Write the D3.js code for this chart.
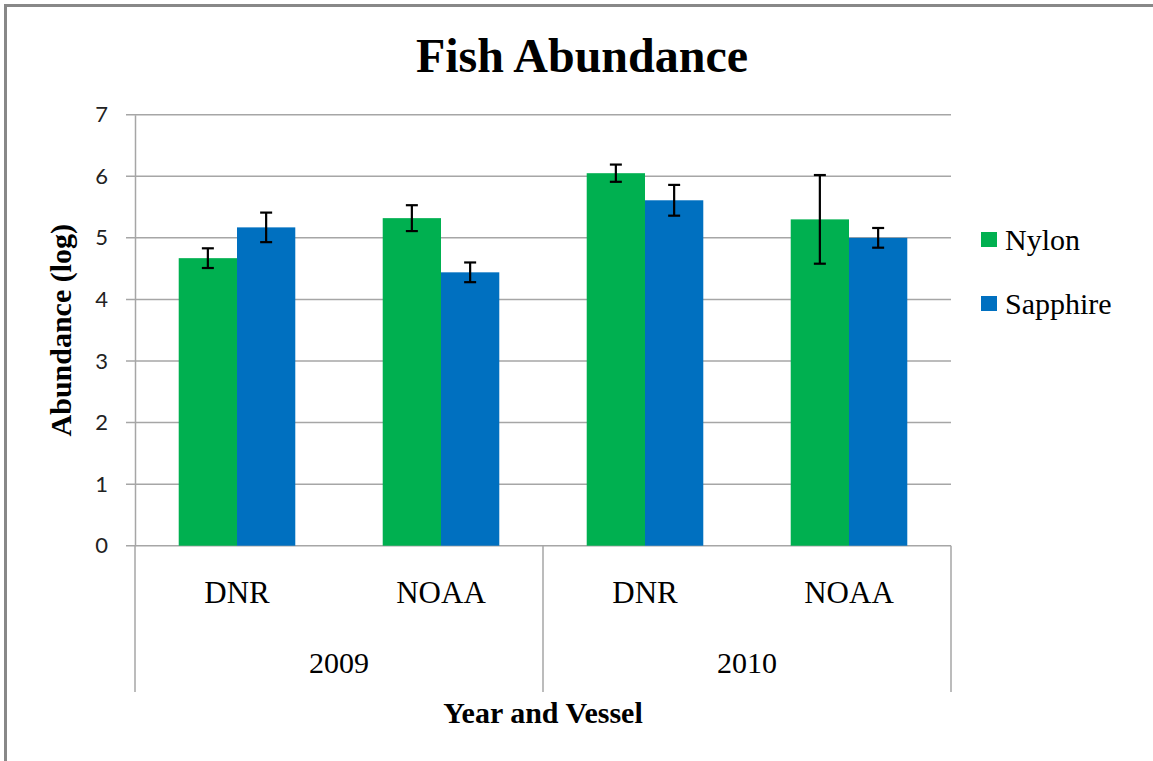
<!DOCTYPE html>
<html>
<head>
<meta charset="utf-8">
<script src="https://cdn.jsdelivr.net/npm/d3@7"></script>
<style>
  html, body { margin: 0; padding: 0; background: #fff; }
  svg { display: block; }
</style>
</head>
<body>
<div id="main"></div>
<script>
"use strict";

// data
var years = ["2009", "2010"];
var vessels = ["DNR", "NOAA", "DNR", "NOAA"];
var categories = ["2009-DNR", "2009-NOAA", "2010-DNR", "2010-NOAA"];
var series = ["Nylon", "Sapphire"];
var nylon = [4.67, 5.32, 6.05, 5.30];
var sapphire = [5.17, 4.44, 5.61, 5.00];
var nylonErr = [0.16, 0.21, 0.14, 0.72];
var sapphireErr = [0.24, 0.16, 0.25, 0.16];
var yTicks = [0, 1, 2, 3, 4, 5, 6, 7];
var colors = ["#00b050", "#0070c0"];

var W = 1153, H = 761;
var plotLeft = 135, plotRight = 951, plotTop = 114.7, plotBottom = 545.7;
var serif = "'Liberation Serif', 'Times New Roman', serif";
var sans = "Lato, 'Open Sans', sans-serif";
var grey = "#a6a6a6";

var svg = d3.select("#main").append("svg")
    .attr("width", W).attr("height", H);

svg.append("rect").attr("width", W).attr("height", H).attr("fill", "white");

// outer chart frame (only left/top visible)
svg.append("rect")
    .attr("x", 5.5).attr("y", 5.5)
    .attr("width", 1300).attr("height", 900)
    .attr("fill", "none").attr("stroke", "#888").attr("stroke-width", 3);

var y = d3.scaleLinear().domain([0, 7]).range([plotBottom, plotTop]);
var x0 = d3.scaleBand().domain(categories).range([plotLeft, plotRight]);
var gap = x0.bandwidth() * 0.75 / 1.75 / 2;
var x1 = d3.scaleBand().domain(series).range([gap, x0.bandwidth() - gap]);
var xYear = d3.scaleBand().domain(years).range([plotLeft, plotRight]);

// gridlines
svg.append("g").selectAll("line").data(yTicks).join("line")
    .attr("x1", plotLeft - 9).attr("x2", plotRight)
    .attr("y1", function(d){ return y(d); })
    .attr("y2", function(d){ return y(d); })
    .attr("stroke", grey).attr("stroke-width", 1.5);

// y axis
var yAxis = d3.axisLeft(y).tickValues(yTicks).tickFormat(d3.format("d"))
    .tickSize(0).tickPadding(27);
var gy = svg.append("g").attr("transform", "translate(" + plotLeft + ",0)").call(yAxis);
gy.select(".domain").attr("stroke", grey).attr("stroke-width", 1.5);
gy.selectAll("text")
    .attr("font-family", sans).attr("font-size", 22).attr("fill", "#222");

// category separators below axis
var seps = [plotLeft, xYear("2010"), plotRight];
svg.append("g").selectAll("line").data(seps).join("line")
    .attr("x1", function(d){ return d; }).attr("x2", function(d){ return d; })
    .attr("y1", plotBottom).attr("y2", 692)
    .attr("stroke", grey).attr("stroke-width", 1.5);

// bars
var flat = [];
categories.forEach(function(c, i){
    flat.push({cat: c, s: "Nylon", v: nylon[i], e: nylonErr[i], col: colors[0]});
    flat.push({cat: c, s: "Sapphire", v: sapphire[i], e: sapphireErr[i], col: colors[1]});
});

svg.append("g").selectAll("rect").data(flat).join("rect")
    .attr("x", function(d){ return x0(d.cat) + x1(d.s); })
    .attr("width", x1.bandwidth())
    .attr("y", function(d){ return y(d.v); })
    .attr("height", function(d){ return y(0) - y(d.v); })
    .attr("fill", function(d){ return d.col; });

// error bars
var eb = svg.append("g").attr("stroke", "#000").attr("stroke-width", 2.2);
flat.forEach(function(d){
    var cx = x0(d.cat) + x1(d.s) + x1.bandwidth() / 2;
    eb.append("line").attr("x1", cx).attr("x2", cx)
        .attr("y1", y(d.v + d.e)).attr("y2", y(d.v - d.e));
    [d.v + d.e, d.v - d.e].forEach(function(t){
        eb.append("line").attr("x1", cx - 6).attr("x2", cx + 6)
            .attr("y1", y(t)).attr("y2", y(t));
    });
});

// vessel labels
svg.append("g").selectAll("text").data(categories).join("text")
    .attr("x", function(d){ return x0(d) + x0.bandwidth() / 2; })
    .attr("y", 603)
    .attr("text-anchor", "middle")
    .attr("font-family", serif).attr("font-size", 31)
    .text(function(d, i){ return vessels[i]; });

// year labels
svg.append("g").selectAll("text").data(years).join("text")
    .attr("x", function(d){ return xYear(d) + xYear.bandwidth() / 2; })
    .attr("y", 673)
    .attr("text-anchor", "middle")
    .attr("font-family", serif).attr("font-size", 30)
    .text(function(d){ return d; });

// title
svg.append("text")
    .attr("x", 582).attr("y", 72)
    .attr("text-anchor", "middle")
    .attr("font-family", serif).attr("font-weight", "bold").attr("font-size", 48)
    .text("Fish Abundance");

// axis titles
svg.append("text")
    .attr("x", 543).attr("y", 723)
    .attr("text-anchor", "middle")
    .attr("font-family", serif).attr("font-weight", "bold").attr("font-size", 30)
    .text("Year and Vessel");

svg.append("text")
    .attr("transform", "translate(71," + ((plotTop + plotBottom) / 2) + ") rotate(-90)")
    .attr("text-anchor", "middle")
    .attr("font-family", serif).attr("font-weight", "bold").attr("font-size", 30)
    .text("Abundance (log)");

// legend
var legend = svg.append("g").selectAll("g").data(series).join("g")
    .attr("transform", function(d, i){ return "translate(981," + (232 + i * 64) + ")"; });
legend.append("rect").attr("width", 16).attr("height", 15)
    .attr("fill", function(d, i){ return colors[i]; });
legend.append("text").attr("x", 24).attr("y", 18)
    .attr("font-family", serif).attr("font-size", 30)
    .text(function(d){ return d; });
</script>
</body>
</html>
